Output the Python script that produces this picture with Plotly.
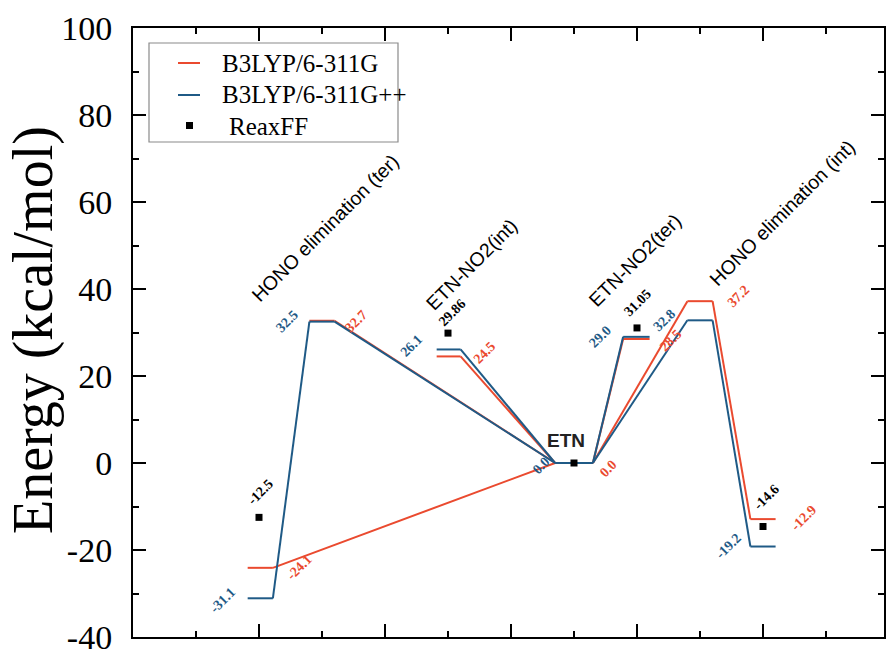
import plotly.graph_objects as go

# Energy levels (kcal/mol) for each stationary point along the pathways
stage_center = [1.01, 1.50, 2.505, 3.50, 3.995, 4.50, 5.00]
e_b3lyp = [-24.1, 32.7, 24.5, 0.0, 28.5, 37.2, -12.9]        # B3LYP/6-311G
e_b3lyp_pp = [-31.1, 32.5, 26.1, 0.0, 29.0, 32.8, -19.2]     # B3LYP/6-311G++
# connections (left stage -> right stage)
links_b3lyp = [(0, 3), (1, 3), (2, 3), (3, 4), (3, 5), (5, 6)]
links_b3lyp_pp = [(0, 1), (1, 3), (2, 3), (3, 4), (3, 5), (5, 6)]

# ReaxFF single points
reaxff_x = [1.0, 2.5, 3.5, 4.0, 5.0]
reaxff_e = [-12.5, 29.86, 0.0, 31.05, -14.6]
reaxff_text = ["-12.5", "29.86", "", "31.05", "-14.6"]

pathways = ["HONO elimination (ter)", "ETN-NO2(int)", "ETN-NO2(ter)", "HONO elimination (int)"]
series_names = ["B3LYP/6-311G", "B3LYP/6-311G++", "ReaxFF"]

y_tickvals = [-40, -20, 0, 20, 40, 60, 80, 100]
y_ticktext = ["-40", "-20", "0", "20", "40", "60", "80", "100"]

RED = "#ea4a2f"
BLUE = "#1f5a86"

# half width of each level bar
half_w = [0.10, 0.10, 0.095, 0.15, 0.105, 0.10, 0.10]


def diagram_path(energies, links):
    xs, ys = [], []
    for c, w, e in zip(stage_center, half_w, energies):
        xs += [c - w, c + w, None]
        ys += [e, e, None]
    for a, b in links:
        xs += [stage_center[a] + half_w[a], stage_center[b] - half_w[b], None]
        ys += [energies[a], energies[b], None]
    return xs, ys


fig = go.Figure()
for energies, links, color, name in [(e_b3lyp, links_b3lyp, RED, series_names[0]),
                                     (e_b3lyp_pp, links_b3lyp_pp, BLUE, series_names[1])]:
    xs, ys = diagram_path(energies, links)
    fig.add_trace(go.Scatter(x=xs, y=ys, mode="lines", name=name, showlegend=False,
                             line=dict(color=color, width=2), hoverinfo="skip"))

fig.add_trace(go.Scatter(x=reaxff_x, y=reaxff_e, mode="markers", name=series_names[2],
                         showlegend=False,
                         marker=dict(symbol="square", size=7, color="black")))

ann = []
num_font = dict(family="Liberation Serif", size=14)

# value labels: pixel offsets from level centres
red_shift = [(39, 0), (34, -1), (36, 4), (34, -5), (34, -1), (38, 5), (40, 1)]
blue_shift = [(-38, -2), (-35, 0), (-37, 4), (-33, -2), (-36, 0), (-36, 0), (-35, 0)]
for energies, shifts, color in [(e_b3lyp, red_shift, RED), (e_b3lyp_pp, blue_shift, BLUE)]:
    for c, e, (dx, dy) in zip(stage_center, energies, shifts):
        ann.append(dict(x=c, y=e, xref="x", yref="y", text="<b>%.1f</b>" % e,
                        showarrow=False, xshift=dx, yshift=dy, textangle=-45,
                        font=dict(color=color, **num_font)))

reax_shift = [(1, 25), (4, 21), (0, 0), (1, 25), (3, 29)]
for x, e, t, (dx, dy) in zip(reaxff_x, reaxff_e, reaxff_text, reax_shift):
    if t:
        ann.append(dict(x=x, y=e, xref="x", yref="y", text="<b>%s</b>" % t,
                        showarrow=False, xshift=dx, yshift=dy, textangle=-45,
                        font=dict(color="black", **num_font)))

ann.append(dict(x=3.5, y=0, xref="x", yref="y", text="<b>ETN</b>", showarrow=False,
                xshift=-8, yshift=23,
                font=dict(family="Liberation Sans", size=19, color="#222")))

# pathway names
path_pos = [(1.524, 54.0), (2.69, 45.7), (3.984, 46.7), (5.15, 57.5)]
for name, (px, py) in zip(pathways, path_pos):
    ann.append(dict(x=px, y=py, xref="x", yref="y", text=name, showarrow=False,
                    textangle=-45,
                    font=dict(family="Liberation Sans", size=19.5, color="black")))

# y axis title
ann.append(dict(x=-(133 - 33) / 751, y=0.504, xref="paper", yref="paper", text="Energy (kcal/mol)",
                showarrow=False, textangle=-90, xanchor="center", yanchor="middle",
                font=dict(family="Liberation Serif", size=56, color="black")))

# legend
W, H = 751.0, 609.0
def px2paper(px, py):
    return (px - 133) / W, (637 - py) / H

shapes = []
x0, y1 = px2paper(149, 43)
x1, y0 = px2paper(398, 142)
shapes.append(dict(type="rect", xref="paper", yref="paper", x0=x0, x1=x1, y0=y0, y1=y1,
                   line=dict(color="#8a8a8a", width=1.2), fillcolor="white", layer="above"))
for row_y, color in [(63, RED), (95, BLUE)]:
    lx0, ly = px2paper(178, row_y)
    lx1, _ = px2paper(200, row_y)
    shapes.append(dict(type="line", xref="paper", yref="paper", x0=lx0, x1=lx1, y0=ly, y1=ly,
                       line=dict(color=color, width=2), layer="above"))
sx0, sy0 = px2paper(186, 129)
sx1, sy1 = px2paper(193, 122)
shapes.append(dict(type="rect", xref="paper", yref="paper", x0=sx0, x1=sx1, y0=sy0, y1=sy1,
                   line=dict(width=0), fillcolor="black", layer="above"))
for name, tx, ty in [(series_names[0], 220, 63), (series_names[1], 220, 95), (series_names[2], 227, 126)]:
    ax_, ay_ = px2paper(tx, ty)
    ann.append(dict(x=ax_, y=ay_, xref="paper", yref="paper", text=name, showarrow=False,
                    xanchor="left", yanchor="middle",
                    font=dict(family="Liberation Serif", size=25, color="black")))

fig.update_layout(
    width=888, height=651,
    margin=dict(l=133, r=4, t=28, b=14),
    paper_bgcolor="white", plot_bgcolor="white",
    annotations=ann, shapes=shapes,
    showlegend=False,
)
fig.update_xaxes(range=[0, 751 / 126], tick0=0, dtick=1, showticklabels=False,
                 showgrid=False, zeroline=False,
                 showline=True, linecolor="black", linewidth=2, mirror="ticks",
                 ticks="inside", ticklen=13, tickwidth=2, tickcolor="black",
                 minor=dict(ticks="inside", dtick=0.5, ticklen=6, tickwidth=2, tickcolor="black"))
fig.update_yaxes(range=[-40, 100], tickmode="array", tickvals=y_tickvals, ticktext=y_ticktext,
                 showgrid=False, zeroline=False, automargin=False,
                 showline=True, linecolor="black", linewidth=2, mirror="ticks",
                 ticks="inside", ticklen=13, tickwidth=2, tickcolor="black",
                 ticklabelstandoff=12, ticklabeloverflow="allow",
                 tickfont=dict(family="Liberation Serif", size=34, color="black"),
                 minor=dict(ticks="inside", tickmode="linear", tick0=-40, dtick=10,
                            ticklen=6, tickwidth=2, tickcolor="black"))

fig.write_html("out.html")
